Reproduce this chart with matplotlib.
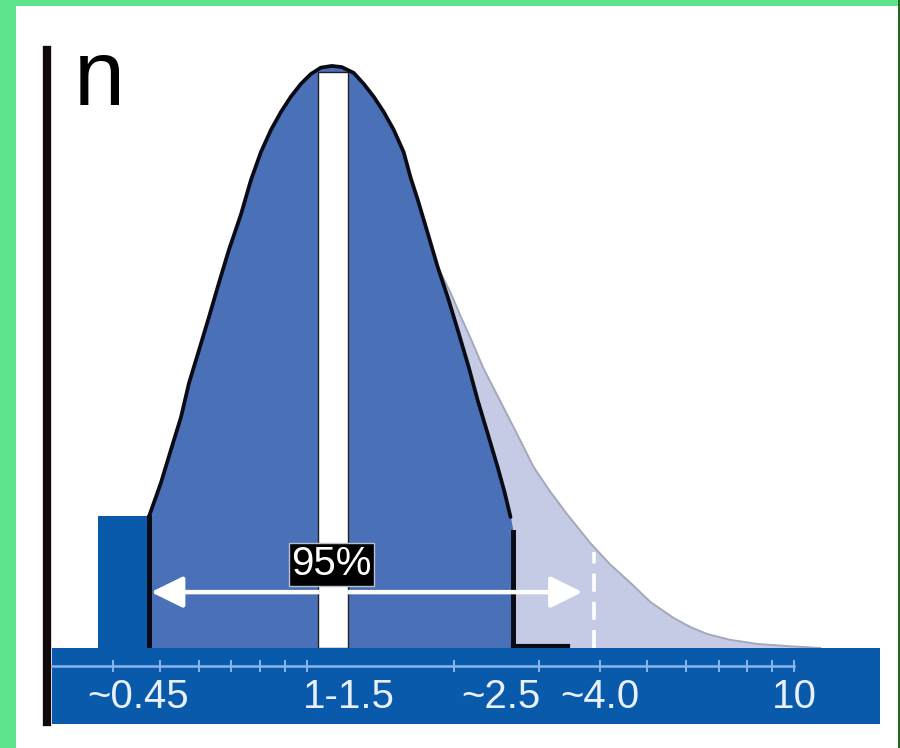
import matplotlib
matplotlib.use('Agg')
import matplotlib.pyplot as plt
from matplotlib.patches import Rectangle
from matplotlib.lines import Line2D
from matplotlib.ticker import FixedLocator, NullLocator

# particle size (log axis) vs relative count n
main_x = [0.474, 0.502, 0.526, 0.552, 0.573, 0.601, 0.630, 0.660, 0.692, 0.732,
          0.768, 0.805, 0.844, 0.885, 0.927, 0.972, 1.019, 1.068, 1.125,
          1.180, 1.248, 1.309, 1.372, 1.438, 1.508, 1.580, 1.633, 1.689, 1.770,
          1.855, 1.954, 2.049, 2.148, 2.241, 2.349, 2.463, 2.545, 2.618]
main_n = [22.5, 28.4, 34.0, 39.7, 45.5, 51.2, 56.9, 62.7, 68.4, 74.4,
          80.4, 85.2, 89.0, 92.1, 94.7, 96.9, 98.6, 99.7, 100.0,
          99.8, 98.8, 96.9, 94.7, 92.1, 89.0, 85.2, 80.8, 77.0, 71.3,
          65.5, 59.8, 54.1, 48.3, 42.6, 36.9, 31.1, 26.8, 22.5]

# skewed tail beyond the main peak
tail_x = [1.855, 1.973, 2.068, 2.168, 2.305, 2.498, 2.706, 2.919, 3.162, 3.426,
          3.819, 4.198, 4.613, 5.070, 5.649, 6.122, 6.633, 7.393, 8.401, 9.813, 11.31]
tail_n = [65.5, 61.0, 57.0, 53.2, 48.0, 42.3, 36.6, 31.1, 26.8, 22.9,
          18.0, 14.3, 11.2, 7.9, 5.2, 3.6, 2.4, 1.4, 0.7, 0.3, 0.0]

small_bar = (0.373, 0.470, 22.7)      # left, right, height
stripe = (1.053, 1.213, 99.0)         # white band at 1-1.5
range_lo, range_hi = 0.474, 2.65      # black boundary lines
base_end = 3.43
arrow_lo, arrow_hi, arrow_n = 0.479, 3.677, 9.6
cut_x, cut_top = 3.89, 16.5
label_x, label_n = 1.125, 14.4

tick_vals = [0.4, 0.5, 0.6, 0.7, 0.8, 0.9, 1, 2, 3, 4, 5, 6, 7, 8, 9, 10]
label_vals = [0.45, 1.22, 2.5, 4.0, 10]
label_txt = ['~0.45', '1-1.5', '~2.5', '~4.0', '10']

BAND = '#0a5aab'
DARK = '#4a70b8'
LIGHT = '#c5cbe5'
TICK = '#8ab6ee'


def main():
    plt.rcParams['font.family'] = ['Liberation Sans', 'DejaVu Sans']
    W, H = 900, 748
    fig = plt.figure(figsize=(9, 7.48), dpi=100, facecolor='#5ee38f')

    # white slide panel, kept behind the axes
    fig.patches.append(Rectangle((16 / W, 0), 882 / W, 742 / H, transform=fig.transFigure,
                                 facecolor='white', edgecolor='none', zorder=-10))
    fig.patches.append(Rectangle((898 / W, 0), 2 / W, 1, transform=fig.transFigure,
                                 facecolor='#1f6a12', edgecolor='none', zorder=-10))

    ax = fig.add_axes([52 / W, 1 - 648 / H, 828 / W, 617 / H])
    ax.set_facecolor('none')
    ax.set_xscale('log')
    ax.set_xlim(0.3, 15)
    ax.set_ylim(0, 106)
    ax.axis('off')

    # light tail then the main dark body on top
    k = main_x.index(tail_x[0])
    light_x = main_x[:k] + tail_x
    light_n = main_n[:k] + tail_n
    ax.fill_between(light_x, 0, light_n, color=LIGHT, lw=0, zorder=1)
    ax.plot(tail_x, tail_n, color='#a3a9b8', lw=1.4, zorder=1.5)
    ax.fill_between(main_x + [range_hi], 0, main_n + [20], color=DARK, lw=0, zorder=2)

    ax.fill_between([small_bar[0], small_bar[1]], 0, small_bar[2], color=BAND, lw=0, zorder=2)
    ax.fill_between([stripe[0], stripe[1]], 0, stripe[2], facecolor='white',
                    edgecolor='#222222', lw=1, zorder=3)

    ax.plot(main_x, main_n, color='#0b0b16', lw=2.7, zorder=4, solid_capstyle='round',
            solid_joinstyle='round')
    ax.plot([range_lo, range_lo], [0, main_n[0]], color='#0b0b16', lw=3.6, zorder=4)
    ax.plot([range_hi, range_hi], [0, 20], color='#0b0b16', lw=3.6, zorder=4)
    ax.plot([range_hi, base_end], [0.4, 0.4], color='#0b0b16', lw=3, zorder=4)

    ax.plot([cut_x, cut_x], [0, cut_top], color='white', lw=2.6, ls=(0, (5, 2.8)), zorder=5)

    ax.annotate('', xy=(arrow_hi, arrow_n), xytext=(arrow_lo, arrow_n),
                arrowprops=dict(arrowstyle='<|-|>,head_length=0.65,head_width=0.32',
                                mutation_scale=30, color='white', lw=3.2,
                                shrinkA=0, shrinkB=0), zorder=6)
    ax.text(label_x, label_n, '95%', ha='center', va='center', fontsize=29, color='white',
            zorder=7, bbox=dict(boxstyle='square,pad=0.06', facecolor='black',
                                edgecolor='#b8c0d0', lw=1))

    # blue size band with its own log ticks
    axb = fig.add_axes([52 / W, 1 - 724 / H, 828 / W, 76 / H])
    axb.set_facecolor(BAND)
    axb.set_xscale('log')
    axb.set_xlim(0.3, 15)
    axb.set_ylim(0, 1)
    for s in ['top', 'left', 'right']:
        axb.spines[s].set_visible(False)
    axb.spines['bottom'].set_position(('axes', 0.763))
    axb.spines['bottom'].set_color(TICK)
    axb.spines['bottom'].set_linewidth(1.8)
    axb.spines['bottom'].set_bounds(0.3, 10)
    axb.xaxis.set_major_locator(FixedLocator(tick_vals))
    axb.xaxis.set_minor_locator(NullLocator())
    axb.tick_params(axis='x', direction='inout', length=8, width=1.4, color=TICK,
                    labelbottom=False)
    axb.set_yticks([])
    for v, t in zip(label_vals, label_txt):
        axb.text(v, 0.21, t, transform=axb.get_xaxis_transform(), ha='center',
                 va='baseline', fontsize=29, color='#e8f0fc')

    # y axis bar and its label
    fig.add_artist(Line2D([47 / W, 47 / W], [1 - 50 / H, 1 - 722 / H], lw=6,
                          color='#120a0a', transform=fig.transFigure))
    fig.text(74 / W, 1 - 105 / H, 'n', fontsize=66, va='baseline', ha='left', color='black')

    fig.savefig('out.png', dpi=100, facecolor=fig.get_facecolor())


if __name__ == "__main__":
    main()
